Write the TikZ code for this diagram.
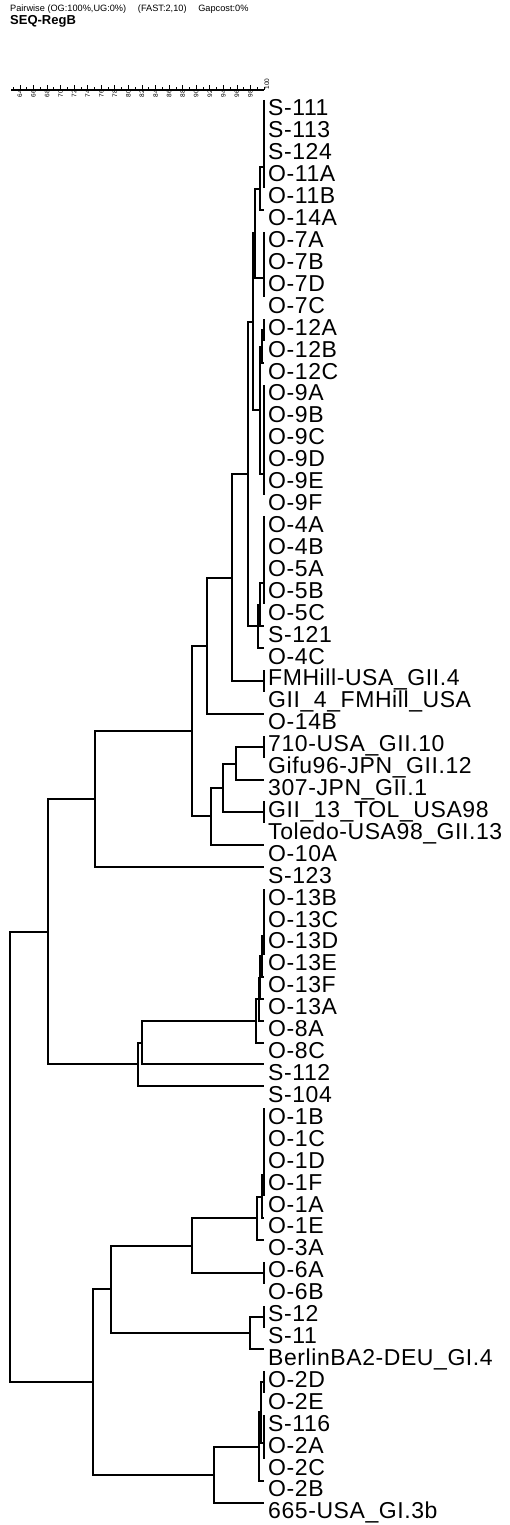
\documentclass[tikz,border=0pt]{standalone}
\usepackage{fontspec}
\setmainfont{Liberation Sans}
\newfontfamily\lblfont[LetterSpace=2.5]{Liberation Sans}
\usetikzlibrary{calc}
\newcommand\tjoin[4]{%
  \coordinate (jtmp) at ($(#3)!0.5!(#4)$);
  \coordinate (#1) at (jtmp -| #2,0);
  \draw[br] (#3) -| (#1) |- (#4);}
\begin{document}
\begin{tikzpicture}[x=1pt,y=-1pt,
  br/.style={line width=2pt,line join=miter},
  lbl/.style={anchor=base west,inner sep=0pt,font=\lblfont\fontsize{23}{23}\selectfont},
  scl/.style={inner sep=0pt,font=\fontsize{6.5}{6.5}\selectfont},
  sc/.style={line width=1.2pt}]
\useasboundingbox (0,0) rectangle (509,1525);
% header
\node[anchor=west,inner sep=0pt,font=\fontsize{9.2}{9.2}\selectfont] (hdr) at (10,9) {Pairwise (OG:100\%,UG:0\%)\quad\ (FAST:2,10)\quad\ Gapcost:0\%};
\node[anchor=west,inner sep=0pt,font=\bfseries\fontsize{13}{13}\selectfont] (ttl) at (10,21) {SEQ-RegB};
% scale bar
\draw[sc] (11,90) -- (264,90);
\foreach \s in {63,...,100} \draw[sc,line width=0.7pt] ({264-(100-\s)*6.78},90) -- ++(0,-3);
\foreach \s in {64,66,...,98} {
  \draw[sc,line width=0.7pt] ({264-(100-\s)*6.78},90) -- ++(0,-5);
  \node[scl,rotate=90] (sl\s) at ({264-(100-\s)*6.78},94) {\s};}
\node[scl,rotate=90] (sl100) at (267,84) {100};
% leaves
\foreach \i/\t in {1/S-111,2/S-113,3/S-124,4/O-11A,5/O-11B,6/O-14A,7/O-7A,8/O-7B,9/O-7D,10/O-7C,
 11/O-12A,12/O-12B,13/O-12C,14/O-9A,15/O-9B,16/O-9C,17/O-9D,18/O-9E,19/O-9F,20/O-4A,
 21/O-4B,22/O-5A,23/O-5B,24/O-5C,25/S-121,26/O-4C,27/FMHill-USA\_GII.4,28/GII\_4\_FMHill\_USA,29/O-14B,
 30/710-USA\_GII.10,31/Gifu96-JPN\_GII.12,32/307-JPN\_GII.1,33/GII\_13\_TOL\_USA98,34/Toledo-USA98\_GII.13,
 35/O-10A,36/S-123,37/O-13B,38/O-13C,39/O-13D,40/O-13E,41/O-13F,42/O-13A,43/O-8A,44/O-8C,
 45/S-112,46/S-104,47/O-1B,48/O-1C,49/O-1D,50/O-1F,51/O-1A,52/O-1E,53/O-3A,54/O-6A,55/O-6B,
 56/S-12,57/S-11,58/BerlinBA2-DEU\_GI.4,59/O-2D,60/O-2E,61/S-116,62/O-2A,63/O-2C,64/O-2B,65/665-USA\_GI.3b}{
  \coordinate (l\i) at (264,{round(100+(\i-1)*21.92)});
  \node[lbl] (t\i) at (268,{116+(\i-1)*21.92}) {\t};}
% top group
\tjoin{a12}{264}{l1}{l2}
\tjoin{a123}{264}{a12}{l3}
\tjoin{a1234}{264}{a123}{l4}
\tjoin{A1}{264}{a1234}{l5}
\tjoin{B}{260}{A1}{l6}
\tjoin{c78}{264}{l7}{l8}
\tjoin{c789}{264}{c78}{l9}
\tjoin{C7}{264}{c789}{l10}
\tjoin{G1}{255}{B}{C7}
\tjoin{o12a}{264}{l11}{l12}
\tjoin{O12}{262}{o12a}{l13}
\tjoin{n9a}{264}{l14}{l15}
\tjoin{n9b}{264}{n9a}{l16}
\tjoin{n9c}{264}{n9b}{l17}
\tjoin{n9d}{264}{n9c}{l18}
\tjoin{O9}{264}{n9d}{l19}
\tjoin{D}{260}{O12}{O9}
\tjoin{G2}{253}{G1}{D}
\tjoin{n4a}{264}{l20}{l21}
\tjoin{n4b}{264}{n4a}{l22}
\tjoin{n4c}{264}{n4b}{l23}
\tjoin{n4d}{264}{n4c}{l24}
\tjoin{n4e}{260}{n4d}{l25}
\tjoin{H}{258}{n4e}{l26}
\tjoin{I}{248}{G2}{H}
\tjoin{J}{264}{l27}{l28}
\tjoin{K}{232}{I}{J}
\tjoin{L}{207}{K}{l29}
\tjoin{m1}{264}{l30}{l31}
\tjoin{M}{236}{m1}{l32}
\tjoin{m2}{264}{l33}{l34}
\tjoin{N}{223}{M}{m2}
\tjoin{O}{211}{N}{l35}
\tjoin{P}{192}{L}{O}
\tjoin{Q}{95}{P}{l36}
% middle group
\tjoin{x1}{264}{l37}{l38}
\tjoin{x2}{264}{x1}{l39}
\tjoin{x3}{264}{x2}{l40}
\tjoin{x4}{262}{x3}{l41}
\tjoin{x5}{260}{x4}{l42}
\tjoin{x6}{259}{x5}{l43}
\tjoin{X}{256}{x6}{l44}
\tjoin{R}{142}{X}{l45}
\tjoin{S}{138}{R}{l46}
\tjoin{T}{48}{Q}{S}
% bottom group
\tjoin{b1}{264}{l47}{l48}
\tjoin{b2}{264}{b1}{l49}
\tjoin{b3}{264}{b2}{l50}
\tjoin{b4}{264}{b3}{l51}
\tjoin{b5}{262}{b4}{l52}
\tjoin{b6}{257}{b5}{l53}
\tjoin{b7}{264}{l54}{l55}
\tjoin{U}{192}{b6}{b7}
\tjoin{s1}{264}{l56}{l57}
\tjoin{V}{250}{s1}{l58}
\tjoin{W}{111}{U}{V}
\tjoin{y1}{264}{l59}{l60}
\tjoin{y2}{264}{l61}{l62}
\tjoin{y3}{264}{y2}{l63}
\tjoin{Y1}{261}{y1}{y3}
\tjoin{Y2}{259}{Y1}{l64}
\tjoin{Z}{214}{Y2}{l65}
\tjoin{AA}{93}{W}{Z}
\tjoin{root}{10}{T}{AA}
\end{tikzpicture}
\end{document}
